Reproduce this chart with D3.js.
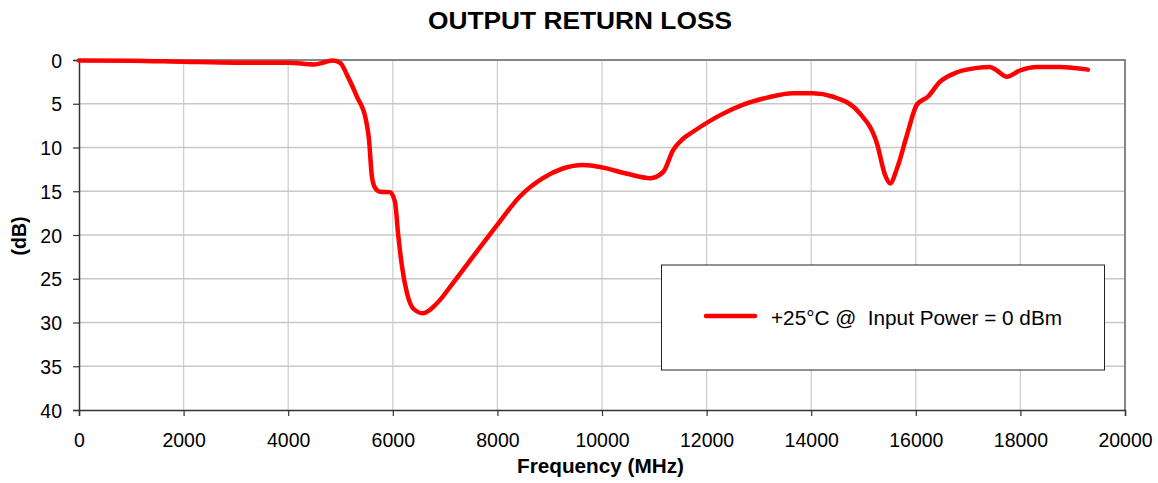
<!DOCTYPE html>
<html><head><meta charset="utf-8">
<script src="https://cdn.jsdelivr.net/npm/d3@7"></script>
<style>body{margin:0;background:#fff}svg{display:block}text{font-family:"Liberation Sans",Arial,sans-serif}</style>
</head><body><svg id="c" width="1158" height="483"></svg>
<script>
const freq = [0,1000,2000,3000,4000,4500,4700,4850,5000,5124,5315,5488,5545,5600,5660,5755,5946,6042,6100,6176,6270,6390,6577,6845,7150,7530,7990,8430,8870,9250,9640,10020,10480,10920,11170,11360,11550,11740,12260,12700,13160,13650,14030,14420,14930,15260,15410,15510,15640,15830,16020,16230,16460,16790,17170,17420,17550,17740,17990,18320,18760,19290];
const loss = [0.05,0.08,0.2,0.3,0.3,0.5,0.25,0.05,0.35,1.7,4.2,6.9,9.1,13.3,14.6,15.05,15.1,16.2,19.8,23.6,26.6,28.4,28.95,27.8,25.5,22.5,18.9,15.6,13.5,12.4,12.0,12.3,13.0,13.5,12.8,10.3,9.0,8.2,6.3,5.1,4.3,3.8,3.8,4.2,6.1,9.6,13.1,14.1,12.4,8.6,5.1,4.2,2.5,1.4,0.9,0.8,1.2,1.9,1.2,0.8,0.8,1.1];
const xTicks = d3.range(0,20001,2000);
const yTicks = d3.range(0,41,5);
const title = "OUTPUT RETURN LOSS";
const xLabel = "Frequency (MHz)";
const yLabel = "(dB)";
const legendLabel = "+25°C @\u00a0 Input Power = 0 dBm";

const svg = d3.select("#c");
const L=79, R=1125, T=60, B=410;
const x = d3.scaleLinear().domain([0,20000]).range([L,R]);
const y = d3.scaleLinear().domain([0,40]).range([T,B]);

// grid
svg.append("g").selectAll("line").data(xTicks.slice(1)).join("line")
  .attr("x1",d=>x(d)).attr("x2",d=>x(d)).attr("y1",T).attr("y2",B)
  .attr("stroke","#d0d0d0").attr("stroke-width",1.3);
svg.append("g").selectAll("line").data(yTicks.slice(1,-1)).join("line")
  .attr("x1",L).attr("x2",R).attr("y1",d=>y(d)).attr("y2",d=>y(d))
  .attr("stroke","#c8c8c8").attr("stroke-width",1.3);
// plot border top/right
svg.append("line").attr("x1",L).attr("x2",R+1).attr("y1",T).attr("y2",T).attr("stroke","#858585").attr("stroke-width",2);
svg.append("line").attr("x1",R).attr("x2",R).attr("y1",T).attr("y2",B).attr("stroke","#858585").attr("stroke-width",2);

// axes
const xa = svg.append("g").attr("transform",`translate(0,${B})`)
  .call(d3.axisBottom(x).tickValues(xTicks).tickSize(6).tickPadding(8).tickFormat(d3.format("d")));
const ya = svg.append("g").attr("transform",`translate(${L},0)`)
  .call(d3.axisLeft(y).tickValues(yTicks).tickSize(6).tickPadding(11).tickFormat(d3.format("d")));
[xa,ya].forEach(a=>{
  a.select(".domain").attr("stroke","#333").attr("stroke-width",1.5);
  a.selectAll(".tick line").attr("stroke","#333").attr("stroke-width",1.2);
  a.selectAll(".tick text").attr("font-size",19.5).attr("fill","#000").style("font-family",'"Liberation Sans",Arial,sans-serif');
});
xa.selectAll(".tick text").attr("y",0).attr("dy",0).attr("transform","translate(0,37)");
ya.selectAll(".tick text").attr("dy","0.36em");

// line
const line = d3.line().x((d,i)=>x(freq[i])).y(d=>y(d)).curve(d3.curveMonotoneX);
svg.append("path").datum(loss).attr("d",line).attr("fill","none")
  .attr("stroke","#ff0000").attr("stroke-width",4.5).attr("stroke-linejoin","round").attr("stroke-linecap","round");

// titles
svg.append("text").attr("x",580).attr("y",29).attr("text-anchor","middle")
  .attr("font-size",23.5).attr("font-weight","bold")
  .attr("textLength",304).attr("lengthAdjust","spacingAndGlyphs").text(title);
svg.append("text").attr("x",600.5).attr("y",473).attr("text-anchor","middle")
  .attr("font-size",20).attr("font-weight","bold")
  .attr("textLength",167).attr("lengthAdjust","spacingAndGlyphs").text(xLabel);
svg.append("text").attr("transform","translate(26,236) rotate(-90)").attr("text-anchor","middle")
  .attr("font-size",19.5).attr("font-weight","bold").text(yLabel);

// legend
svg.append("rect").attr("x",661.5).attr("y",265).attr("width",443).attr("height",105)
  .attr("fill","#fff").attr("stroke","#222").attr("stroke-width",1);
svg.append("line").attr("x1",706).attr("x2",755).attr("y1",316).attr("y2",316)
  .attr("stroke","#ff0000").attr("stroke-width",4.5).attr("stroke-linecap","round");
svg.append("text").attr("x",771).attr("y",325).attr("font-size",20)
  .attr("textLength",291).attr("lengthAdjust","spacingAndGlyphs").text(legendLabel);
</script></body></html>
